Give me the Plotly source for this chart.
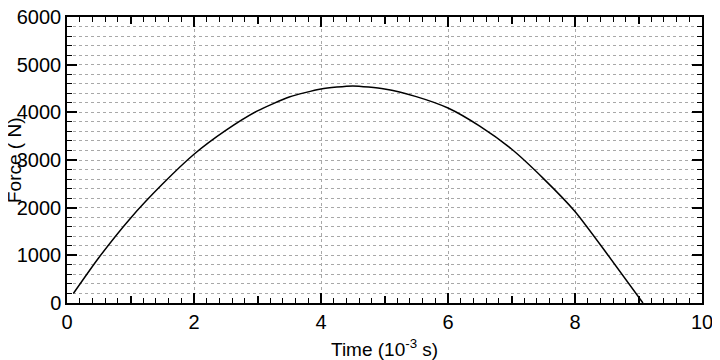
import plotly.graph_objects as go

time_ms = [0.1, 0.5, 1.0, 1.5, 2.0, 2.5, 3.0, 3.5, 4.0, 4.5, 5.0, 5.5, 6.0, 6.5, 7.0, 7.5, 8.0, 8.5, 9.07]
force_n = [200, 950, 1780, 2490, 3120, 3620, 4030, 4320, 4490, 4555, 4490, 4330, 4090, 3710, 3230, 2615, 1920, 1040, 0]

x_major = [0, 2, 4, 6, 8, 10]
x_mid = [1, 3, 5, 7, 9]
y_major = [0, 1000, 2000, 3000, 4000, 5000, 6000]

FONT = "Liberation Sans, Arial, Helvetica, sans-serif"

fig = go.Figure()
fig.add_trace(go.Scatter(x=time_ms, y=force_n, mode="lines",
                         line=dict(color="black", width=1.5, shape="spline", smoothing=0.6),
                         showlegend=False, hoverinfo="skip"))
# invisible trace to anchor overlay axis
fig.add_trace(go.Scatter(x=[0, 10], y=[0, 0], xaxis="x2", mode="lines",
                         line=dict(width=0), showlegend=False, hoverinfo="skip"))

fig.update_layout(
    width=712, height=352,
    margin=dict(l=59, r=18, t=9, b=57),
    plot_bgcolor="white", paper_bgcolor="white",
    font=dict(family=FONT, size=20, color="black"),
    xaxis=dict(
        range=[0, 10], tickvals=x_major, ticks="inside", ticklen=10, tickwidth=1.5,
        tickcolor="black", showline=True, linecolor="black", linewidth=1.5, mirror="ticks",
        showgrid=True, gridcolor="#a8a8a8", griddash="dot", gridwidth=1, zeroline=False,
        tickfont=dict(size=20), automargin=False, ticklabeloverflow="allow",
        minor=dict(dtick=0.2, ticks="inside", ticklen=5, tickwidth=1.2, tickcolor="black", showgrid=False),
    ),
    xaxis2=dict(
        overlaying="x", matches="x", range=[0, 10], tickvals=x_mid, ticks="inside", ticklen=7,
        tickwidth=1.5, tickcolor="black", showticklabels=False, showgrid=False, zeroline=False,
        showline=False, mirror="ticks", side="bottom", anchor="y", automargin=False,
    ),
    yaxis=dict(
        range=[0, 6000], tickvals=y_major, ticks="inside", ticklen=10, tickwidth=1.5,
        tickcolor="black", showline=True, linecolor="black", linewidth=1.5, mirror="ticks",
        showgrid=True, gridcolor="#a8a8a8", griddash="dot", gridwidth=1, zeroline=False,
        tickfont=dict(size=20), automargin=False, ticklabeloverflow="allow",
        minor=dict(dtick=200, ticks="inside", ticklen=5, tickwidth=1.2, tickcolor="black",
                   showgrid=True, gridcolor="#a8a8a8", griddash="dot", gridwidth=1),
    ),
    annotations=[
        dict(text="Force ( N)", textangle=-90, xref="paper", yref="paper", x=0, y=0.5,
             xanchor="center", yanchor="middle", xshift=-53, showarrow=False,
             font=dict(size=19, family=FONT)),
        dict(text="Time (10<sup>-3</sup> s)", xref="paper", yref="paper", x=0.5, y=0,
             xanchor="center", yanchor="middle", yshift=-45, showarrow=False,
             font=dict(size=19, family=FONT)),
    ],
)

fig.write_html("out.html")
